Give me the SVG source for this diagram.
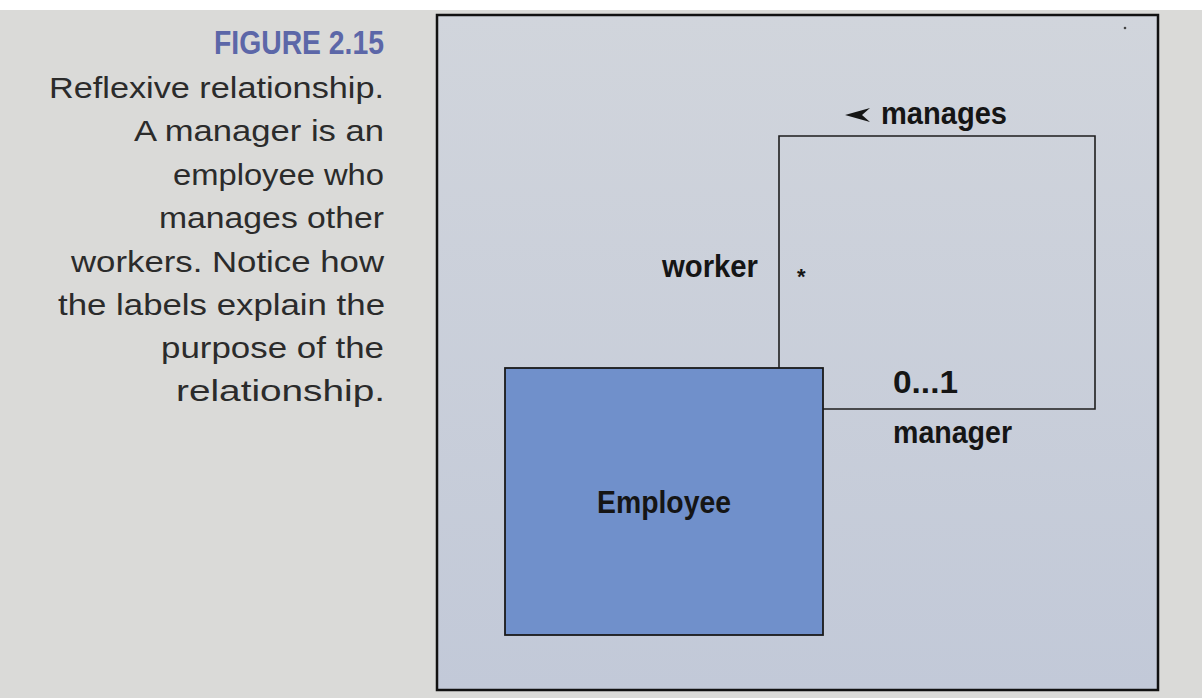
<svg xmlns="http://www.w3.org/2000/svg" width="1202" height="698" viewBox="0 0 1202 698">
<defs>
<linearGradient id="frameFill" x1="0" y1="0" x2="0" y2="1">
<stop offset="0" stop-color="#d1d5dc"/>
<stop offset="1" stop-color="#c2c9d8"/>
</linearGradient>
<style>
.cap{font-family:"Liberation Sans",Arial,sans-serif;font-size:30px;fill:#2b2b2b;text-anchor:end}
.title{font-family:"Liberation Sans",Arial,sans-serif;font-size:33px;font-weight:bold;fill:#5c67a8;text-anchor:end}
.lbl{font-family:"Liberation Sans",Arial,sans-serif;font-size:32px;font-weight:bold;fill:#151515}
.edge{fill:none;stroke:#1e1e1e;stroke-width:1.6}
</style>
</defs>
<rect x="0" y="0" width="1202" height="698" fill="#dadad8"/>
<rect x="0" y="0" width="1202" height="10" fill="#ffffff"/>
<g id="caption">
<text class="title" x="384" y="54" textLength="170" lengthAdjust="spacingAndGlyphs">FIGURE 2.15</text>
<text class="cap" x="384" y="98" textLength="335" lengthAdjust="spacingAndGlyphs">Reflexive relationship.</text>
<text class="cap" x="384" y="141" textLength="250" lengthAdjust="spacingAndGlyphs">A manager is an</text>
<text class="cap" x="384" y="185" textLength="211" lengthAdjust="spacingAndGlyphs">employee who</text>
<text class="cap" x="384" y="228" textLength="225" lengthAdjust="spacingAndGlyphs">manages other</text>
<text class="cap" x="384" y="272" textLength="313" lengthAdjust="spacingAndGlyphs">workers. Notice how</text>
<text class="cap" x="385" y="315" textLength="327" lengthAdjust="spacingAndGlyphs">the labels explain the</text>
<text class="cap" x="384" y="358" textLength="223" lengthAdjust="spacingAndGlyphs">purpose of the</text>
<text class="cap" x="385" y="401" textLength="209" lengthAdjust="spacingAndGlyphs">relationship.</text>
</g>
<g id="frame">
<rect x="437" y="15" width="721" height="675" fill="url(#frameFill)" stroke="#111" stroke-width="2.5"/>
<circle cx="1125" cy="28" r="1.3" fill="#444"/>
</g>
<g id="connectors">
<polyline class="edge" points="779,368 779,136 1095,136 1095,409 823,409"/>
<polygon points="845,115 870,108 862,115 870,122" fill="#151515"/>
<text class="lbl" x="881" y="124" textLength="126" lengthAdjust="spacingAndGlyphs">manages</text>
<text class="lbl" x="662" y="277" textLength="96" lengthAdjust="spacingAndGlyphs">worker</text>
<text class="lbl" x="797" y="284" style="font-size:22px">*</text>
<text class="lbl" x="893" y="393" textLength="65" lengthAdjust="spacingAndGlyphs">0...1</text>
<text class="lbl" x="893" y="443" textLength="119" lengthAdjust="spacingAndGlyphs">manager</text>
</g>
<g id="employee">
<rect x="505" y="368" width="318" height="267" fill="#7090cb" stroke="#1a1a1a" stroke-width="1.8"/>
<text class="lbl" x="597" y="513" textLength="134" lengthAdjust="spacingAndGlyphs">Employee</text>
</g>
</svg>
